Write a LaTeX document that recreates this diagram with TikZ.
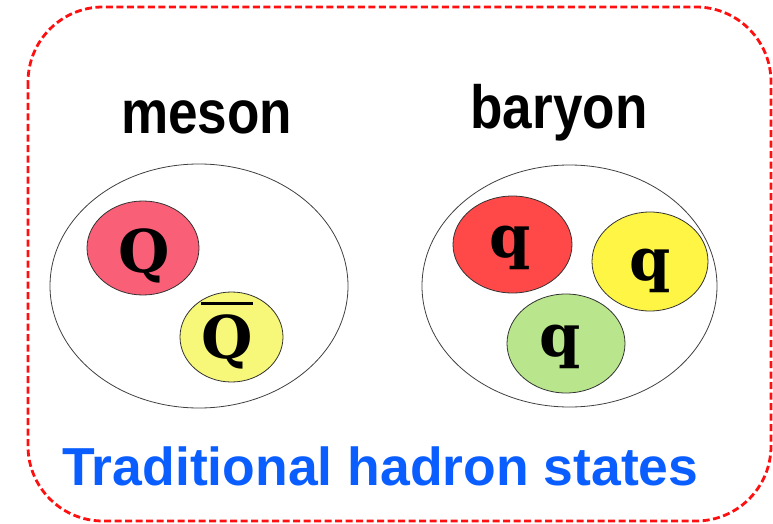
\documentclass[tikz,border=0pt]{standalone}
\usepackage{fontspec}
\setmainfont{Liberation Sans}
\newfontfamily\quarkfont{DejaVu Serif}
\usetikzlibrary{shapes.geometric}

\definecolor{frameRed}{HTML}{FF1010}
\definecolor{titleBlue}{HTML}{0A5EFF}
\definecolor{mesonRed}{HTML}{FA5F78}
\definecolor{mesonYellow}{HTML}{F7F77A}
\definecolor{quarkRed}{HTML}{FF4848}
\definecolor{quarkYellow}{HTML}{FFF545}
\definecolor{quarkGreen}{HTML}{B9E68C}

\tikzset{
  hadron/.style={ellipse, draw=black!75, line width=0.8pt, inner sep=0pt},
  quark/.style={ellipse, draw=black!80, line width=0.8pt, inner sep=0pt},
  quarklabel/.style={anchor=base, inner sep=0pt, font=\quarkfont\bfseries\fontsize{59}{62}\selectfont},
  grouplabel/.style={anchor=base, inner sep=0pt, xscale=0.87, font=\bfseries\fontsize{61}{64}\selectfont},
}

\begin{document}
\begin{tikzpicture}[x=1pt, y=-1pt]
  \useasboundingbox (0,0) rectangle (773,524);

  % dashed frame
  \draw[frameRed, line width=2.8pt, dash pattern=on 7pt off 3.5pt, rounded corners=75pt]
    (28,7) rectangle (771,521);

  % group labels
  \node[grouplabel] (mesonlbl) at (206.7,133.3) {meson};
  \node[grouplabel] (baryonlbl) at (559,128.3) {baryon};

  % meson: quark and antiquark
  \node[hadron, minimum width=298pt, minimum height=244pt] (meson) at (199,286) {};
  \node[quark, fill=mesonRed, minimum width=112pt, minimum height=94pt] (Qr) at (143,248) {};
  \node[quark, fill=mesonYellow, minimum width=103pt, minimum height=90pt] (Qb) at (231.5,337) {};
  \node[quarklabel] (Qrl) at (144,272) {Q};
  \node[quarklabel] (Qbl) at (227,358) {\vbox{\hrule height 3pt\vskip 9pt\hbox{Q}}};

  % baryon: three quarks
  \node[hadron, minimum width=295pt, minimum height=242pt] (baryon) at (569.5,286) {};
  \node[quark, fill=quarkRed, minimum width=119pt, minimum height=97pt] (qr) at (512.5,244.5) {};
  \node[quark, fill=quarkYellow, minimum width=116pt, minimum height=99pt] (qy) at (650,261.5) {};
  \node[quark, fill=quarkGreen, minimum width=118pt, minimum height=99pt] (qg) at (566,343.5) {};
  \node[quarklabel] (qrl) at (510,257) {q};
  \node[quarklabel] (qyl) at (650,280) {q};
  \node[quarklabel] (qgl) at (560,356) {q};

  % caption
  \node[anchor=base west, inner sep=0pt, text=titleBlue,
        font=\bfseries\fontsize{53.5}{56}\selectfont] (caption) at (62,485)
    {Traditional hadron states};
\end{tikzpicture}
\end{document}
